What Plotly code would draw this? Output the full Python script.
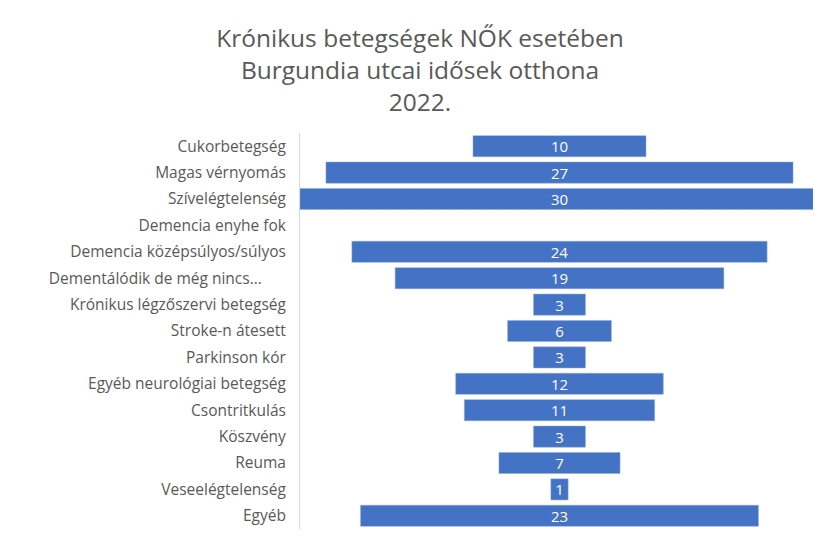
import plotly.graph_objects as go

categories = [
    "Cukorbetegség",
    "Magas vérnyomás",
    "Szívelégtelenség",
    "Demencia enyhe fok",
    "Demencia középsúlyos/súlyos",
    "Dementálódik de még nincs…\u00a0\u00a0\u00a0\u00a0\u00a0\u00a0",
    "Krónikus légzőszervi betegség",
    "Stroke-n átesett",
    "Parkinson kór",
    "Egyéb neurológiai betegség",
    "Csontritkulás",
    "Köszvény",
    "Reuma",
    "Veseelégtelenség",
    "Egyéb",
]
values = [10, 27, 30, None, 24, 19, 3, 6, 3, 12, 11, 3, 7, 1, 23]

title_lines = [
    "Krónikus betegségek NŐK esetében",
    "Burgundia utcai idősek otthona",
    "2022.",
]

FONT = "Open Sans"
GRAY = "#595959"
BLUE = "#4472C4"

fig = go.Figure(
    go.Funnel(
        y=categories,
        x=values,
        orientation="h",
        marker=dict(color=BLUE, line=dict(color="#8faadc", width=0.5)),
        textinfo="value",
        textposition="inside",
        constraintext="none",
        insidetextfont=dict(color="white", size=15, family=FONT),
        connector=dict(visible=False),
        hoverinfo="y+x",
    )
)

fig.update_layout(
    width=821,
    height=537,
    paper_bgcolor="white",
    plot_bgcolor="white",
    margin=dict(l=292, r=10, t=125, b=16),
    bargap=0.09,
    showlegend=False,
    title=dict(
        text="<br>".join(title_lines),
        x=412 / 821,
        xanchor="center",
        xref="container",
        y=1 - 39 / 537,
        yanchor="top",
        yref="container",
        font=dict(family=FONT, size=24.5, color=GRAY),
    ),
    font=dict(family=FONT, color=GRAY),
)

fig.update_xaxes(visible=False, range=[-15, 15])
fig.update_yaxes(
    showline=True,
    linecolor="#d9d9d9",
    linewidth=1,
    ticks="",
    ticklabelstandoff=10,
    tickfont=dict(family=FONT, size=15.5, color=GRAY),
    showgrid=False,
)

fig.write_html("out.html")
